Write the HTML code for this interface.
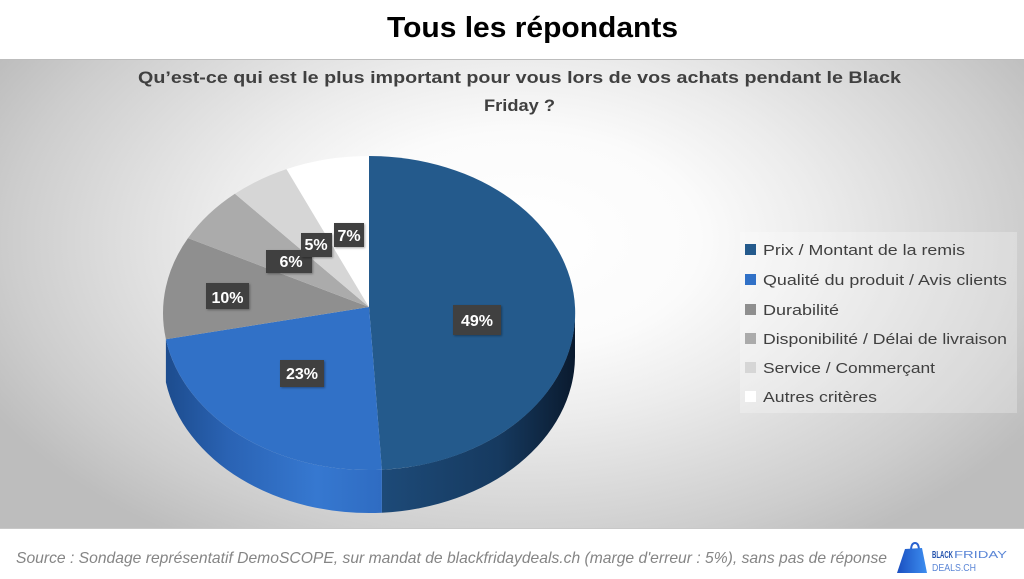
<!DOCTYPE html>
<html>
<head>
<meta charset="utf-8">
<style>
  html, body { margin:0; padding:0; background:#ffffff; }
  body { width:1024px; height:579px; overflow:hidden; }
  svg { display:block; }
  text { font-family: "Liberation Sans", "DejaVu Sans", sans-serif; }
</style>
</head>
<body>
<svg width="1024" height="579" viewBox="0 0 1024 579" xmlns="http://www.w3.org/2000/svg">
  <defs>
    <radialGradient id="bg" gradientUnits="userSpaceOnUse" cx="520" cy="240" r="600"
      gradientTransform="translate(520 240) scale(1 0.6) translate(-520 -240)">
      <stop offset="0" stop-color="#ffffff"/>
      <stop offset="0.3" stop-color="#fbfbfb"/>
      <stop offset="0.5" stop-color="#ececec"/>
      <stop offset="0.85" stop-color="#cdcdcd"/>
      <stop offset="1" stop-color="#bdbdbd"/>
    </radialGradient>
    <linearGradient id="sideDark" gradientUnits="userSpaceOnUse" x1="382" y1="0" x2="575" y2="0">
      <stop offset="0" stop-color="#1d4a78"/>
      <stop offset="0.6" stop-color="#163a60"/>
      <stop offset="1" stop-color="#0a1a2e"/>
    </linearGradient>
    <linearGradient id="sideLight" gradientUnits="userSpaceOnUse" x1="163" y1="0" x2="382" y2="0">
      <stop offset="0" stop-color="#1c4b8c"/>
      <stop offset="0.3" stop-color="#2a63b4"/>
      <stop offset="0.7" stop-color="#3678d0"/>
      <stop offset="1" stop-color="#2f6cc2"/>
    </linearGradient>
    <linearGradient id="bag" x1="0" y1="0" x2="1" y2="0">
      <stop offset="0" stop-color="#1a4fc0"/>
      <stop offset="1" stop-color="#3d8ef0"/>
    </linearGradient>
    <filter id="sh" x="-20%" y="-20%" width="140%" height="140%">
      <feDropShadow dx="1" dy="1" stdDeviation="1" flood-color="#000" flood-opacity="0.35"/>
    </filter>
  </defs>

  <rect x="0" y="0" width="1024" height="59" fill="#ffffff"/>
  <text x="387" y="37" font-size="29" font-weight="bold" fill="#000" textLength="291" lengthAdjust="spacingAndGlyphs">Tous les répondants</text>

  <rect x="0" y="59" width="1024" height="470" fill="url(#bg)"/>
  <line x1="0" y1="59.5" x2="1024" y2="59.5" stroke="#bdbdbd" stroke-width="1"/>
  <line x1="0" y1="528.5" x2="1024" y2="528.5" stroke="#c8c8c8" stroke-width="1"/>

  <text x="138" y="83" font-size="17" font-weight="bold" fill="#404040" textLength="763" lengthAdjust="spacingAndGlyphs">Qu’est-ce qui est le plus important pour vous lors de vos achats pendant le Black</text>
  <text x="484" y="111" font-size="17" font-weight="bold" fill="#404040" textLength="71" lengthAdjust="spacingAndGlyphs">Friday ?</text>

  <!-- pie sides -->
  <path d="M575,314 A206,157 0 0 1 381.9,469.7 L381.9,512.7 A206,157 0 0 0 575,357 Z" fill="url(#sideDark)"/>
  <path d="M381.9,469.7 A206,157 0 0 1 165.9,339.2 L165.9,382.2 A206,157 0 0 0 381.9,512.7 Z" fill="url(#sideLight)"/>

  <!-- pie top faces -->
  <g transform="translate(0 1)">
  <path d="M369,306 L369,155 A206,157 0 0 1 381.9,468.7 Z" fill="#245a8c"/>
  <path d="M369,306 L381.9,468.7 A206,157 0 0 1 165.9,338.2 Z" fill="#3171c7"/>
  <path d="M369,306 L165.9,338.2 A206,157 0 0 1 188,237.1 Z" fill="#8f8f8f"/>
  <path d="M369,306 L188,237.1 A206,157 0 0 1 234.9,192.8 Z" fill="#ababab"/>
  <path d="M369,306 L234.9,192.8 A206,157 0 0 1 286.5,168.1 Z" fill="#d6d6d6"/>
  <path d="M369,306 L286.5,168.1 A206,157 0 0 1 369,155 Z" fill="#ffffff"/>
  </g>

  <g font-size="16" font-weight="bold" fill="#ffffff" text-anchor="middle">
    <rect x="453" y="305" width="48" height="30" fill="#404040" filter="url(#sh)"/>
    <text x="477" y="326">49%</text>
    <rect x="280" y="360" width="44" height="27" fill="#404040" filter="url(#sh)"/>
    <text x="302" y="379">23%</text>
    <rect x="206" y="283" width="43" height="26" fill="#404040" filter="url(#sh)"/>
    <text x="227.5" y="303">10%</text>
    <rect x="266" y="250" width="46" height="23" fill="#404040" filter="url(#sh)"/>
    <text x="291" y="267">6%</text>
    <rect x="301" y="233" width="31" height="24" fill="#404040" filter="url(#sh)"/>
    <text x="316" y="250">5%</text>
    <rect x="334" y="223" width="30" height="24" fill="#404040" filter="url(#sh)"/>
    <text x="349" y="241">7%</text>
  </g>

  <rect x="740" y="232" width="277" height="181" fill="#ffffff" fill-opacity="0.25"/>
  <g font-size="15" fill="#404040">
    <rect x="745" y="244" width="11" height="11" fill="#245a8c"/>
    <text x="763" y="255" textLength="202" lengthAdjust="spacingAndGlyphs">Prix / Montant de la remis</text>
    <rect x="745" y="274" width="11" height="11" fill="#3171c7"/>
    <text x="763" y="285" textLength="244" lengthAdjust="spacingAndGlyphs">Qualité du produit / Avis clients</text>
    <rect x="745" y="304" width="11" height="11" fill="#8f8f8f"/>
    <text x="763" y="315" textLength="76" lengthAdjust="spacingAndGlyphs">Durabilité</text>
    <rect x="745" y="333" width="11" height="11" fill="#ababab"/>
    <text x="763" y="344" textLength="244" lengthAdjust="spacingAndGlyphs">Disponibilité / Délai de livraison</text>
    <rect x="745" y="362" width="11" height="11" fill="#d6d6d6"/>
    <text x="763" y="373" textLength="172" lengthAdjust="spacingAndGlyphs">Service / Commerçant</text>
    <rect x="745" y="391" width="11" height="11" fill="#ffffff"/>
    <text x="763" y="402" textLength="114" lengthAdjust="spacingAndGlyphs">Autres critères</text>
  </g>

  <text x="16" y="563" font-size="16" font-style="italic" fill="#858585" textLength="871" lengthAdjust="spacingAndGlyphs">Source : Sondage représentatif DemoSCOPE, sur mandat de blackfridaydeals.ch (marge d'erreur : 5%), sans pas de réponse</text>

  <path d="M911,551 Q911,543 915,543 Q919,543 919,551" fill="none" stroke="#2a62d0" stroke-width="2"/>
  <polygon points="905,549 922,548 927,573 897,573" fill="url(#bag)"/>
  <text x="932" y="558" font-size="10" font-weight="bold" fill="#2352ad" textLength="21" lengthAdjust="spacingAndGlyphs">BLACK</text>
  <text x="954" y="558" font-size="10" fill="#5b86d6" textLength="53" lengthAdjust="spacingAndGlyphs">FRIDAY</text>
  <text x="932" y="571" font-size="10" fill="#5b86d6" textLength="44" lengthAdjust="spacingAndGlyphs">DEALS.CH</text>
</svg>
</body>
</html>
